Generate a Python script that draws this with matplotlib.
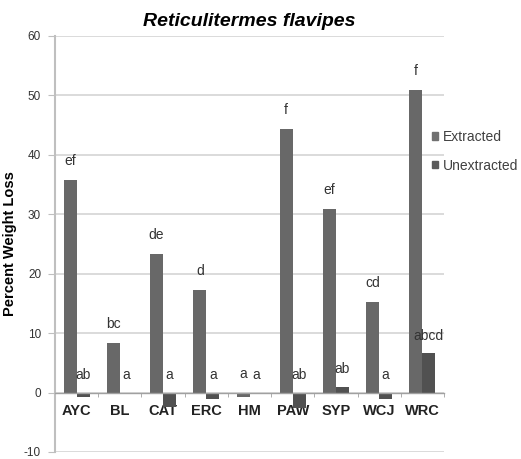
#!/usr/bin/env python3

import numpy as np
import matplotlib
matplotlib.use('Agg')
import matplotlib.pyplot as plt
from matplotlib.patches import Patch

woods = ['AYC', 'BL', 'CAT', 'ERC', 'HM', 'PAW', 'SYP', 'WCJ', 'WRC']
extracted = [35.8, 8.4, 23.3, 17.3, -0.8, 44.3, 30.9, 15.3, 50.9]
unextracted = [-0.8, 0.0, -2.4, -1.0, -0.3, -2.6, 1.0, -1.0, 6.6]
ext_letters = ['ef', 'bc', 'de', 'd', 'a', 'f', 'ef', 'cd', 'f']
unext_letters = ['ab', 'a', 'a', 'a', 'a', 'ab', 'ab', 'a', 'abcd']

ext_color = '#686868'
unext_color = '#515151'
grid_color = '#d4d4d4'

plt.rcParams['font.family'] = ['Liberation Sans', 'DejaVu Sans']
plt.rcParams['axes.unicode_minus'] = False


def main():
    fig = plt.figure(figsize=(5.21, 4.59), dpi=100)
    ax = fig.add_axes([55 / 521, 1 - 452 / 459, 389 / 521, 416 / 459])

    x = np.arange(len(woods))
    w = 0.3
    ax.bar(x - w / 2, extracted, w, color=ext_color, zorder=3)
    ax.bar(x + w / 2, unextracted, w, color=unext_color, zorder=3)

    for i in range(len(woods)):
        ax.text(x[i] - w / 2, max(extracted[i], 0) + 3.2, ext_letters[i],
                ha='center', va='center', fontsize=10, color='#333333')
        ax.text(x[i] + w / 2, max(unextracted[i], 0) + 3.0, unext_letters[i],
                ha='center', va='center', fontsize=10, color='#333333')

    ax.set_xlim(-0.5, len(woods) - 0.5)
    ax.set_ylim(-10, 60)
    ax.set_yticks(np.arange(-10, 61, 10))
    ax.yaxis.grid(True, color=grid_color, linewidth=1.2, zorder=0)
    ax.set_axisbelow(True)

    for s in ['top', 'right']:
        ax.spines[s].set_visible(False)
    ax.spines['left'].set_color('#bfbfbf')
    ax.spines['left'].set_linewidth(1.5)
    ax.spines['bottom'].set_position(('data', 0))
    ax.spines['bottom'].set_color('#a0a0a0')
    ax.spines['bottom'].set_linewidth(1.0)
    ax.spines['bottom'].set_zorder(4)

    ax.set_xticks(x)
    ax.set_xticklabels(woods, fontsize=10.5, fontweight='bold', color='#222222')
    ax.set_xticks(np.arange(0.5, len(woods), 1), minor=True)
    ax.tick_params(axis='x', which='major', length=0, pad=8.5)
    ax.tick_params(axis='x', which='minor', length=3, color='#a0a0a0', direction='out')
    ax.tick_params(axis='y', length=5, color='#bfbfbf', labelsize=8.5, labelcolor='#333333', pad=5)

    ax.set_ylabel('Percent Weight Loss', fontsize=10.5, fontweight='bold')
    ax.yaxis.set_label_coords(-0.098, 0.5)
    ax.set_title('Reticulitermes flavipes', fontsize=14, fontweight='bold',
                 fontstyle='italic', pad=7)

    handles = [Patch(color='#707070'), Patch(color='#5a5a5a')]
    fig.legend(handles, ['Extracted', 'Unextracted'], loc='upper left',
               bbox_to_anchor=(432 / 521, 1 - 130 / 459), frameon=False,
               fontsize=10, handlelength=0.45, handleheight=0.45, handletextpad=0.3,
               labelspacing=1.05, labelcolor='#404040', borderaxespad=0, borderpad=0)

    plt.savefig('out.png', dpi=100)


if __name__ == '__main__':
    main()
